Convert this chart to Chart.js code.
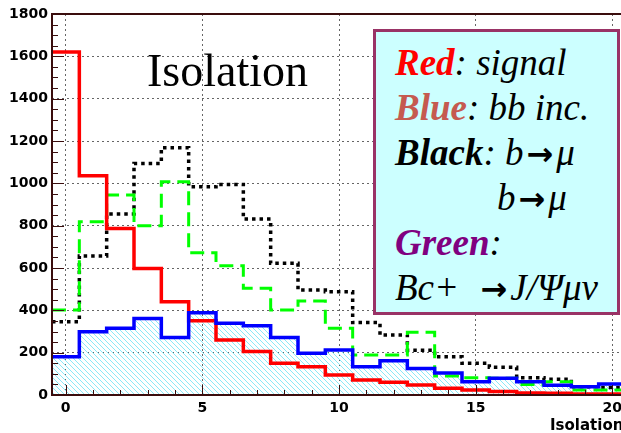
<!DOCTYPE html>
<html>
<head>
<meta charset="utf-8">
<script src="https://cdn.jsdelivr.net/npm/chart.js@4.4.1/dist/chart.umd.min.js"></script>
<style>
  body { margin: 0; background: #fff; overflow: hidden; }
  #wrap { position: relative; width: 621px; height: 433px; overflow: hidden; }
  #chart { position: absolute; left: 0; top: 0; }
  #title { position: absolute; left: 147px; top: 48px; font-family: "Liberation Serif", "Times New Roman", serif; font-size: 46px; line-height: 46px; color: #000; white-space: nowrap; }
  #axisTitle { position: absolute; left: 550px; top: 418px; font: bold 15px "DejaVu Sans", sans-serif; line-height: 15px; white-space: nowrap; }
  #legendBox { position: absolute; left: 373px; top: 29px; width: 241px; height: 280px; border: 3px solid #993366; background: #ccffff; }
  .row { position: absolute; left: 19px; font-family: "Liberation Serif", "Times New Roman", serif; font-style: italic; font-size: 37px; line-height: 45px; white-space: nowrap; color: #000; }
  .row b { font-weight: bold; }
  .arr { display: inline-block; font-family: "DejaVu Sans", sans-serif; font-weight: bold; font-style: normal; font-size: 32px; margin: 0 3px; }
</style>
</head>
<body>
<div id="wrap">
  <canvas id="chart" width="630" height="433"></canvas>
  <div id="title">Isolation</div>
  <div id="axisTitle">Isolation</div>
  <div id="legendBox">
    <div class="row" style="top:8px"><b style="color:#ff0000">Red</b>: signal</div>
    <div class="row" style="top:53px"><b style="color:#c55a50">Blue</b>: bb inc.</div>
    <div class="row" style="top:98px"><b>Black</b>: b<span class="arr">→</span>μ</div>
    <div class="row" style="top:143px; left:121px">b<span class="arr">→</span>μ</div>
    <div class="row" style="top:188px"><b style="color:#800080">Green</b>:</div>
    <div class="row" style="top:233px">Bc+ &nbsp;<span class="arr">→</span>J/Ψμν</div>
  </div>
</div>
<script>
//// histogram data, one value per bin (bin width 1, centred on the integers)

let binCenters = [0, 1, 2, 3, 4, 5, 6, 7, 8, 9, 10, 11, 12, 13, 14, 15, 16, 17, 18, 19, 20];
let redSignal = [1620, 1036, 787, 598, 441, 351, 260, 205, 150, 134, 94, 71, 60, 47, 32, 24, 16, 10, 8, 5, 5];
let blueBbInc = [181, 299, 315, 362, 272, 389, 339, 327, 272, 197, 213, 134, 162, 125, 104, 63, 79, 63, 46, 39, 52];
let blackBmu = [346, 657, 855, 1094, 1168, 984, 995, 831, 622, 496, 488, 342, 283, 211, 181, 150, 131, 82, 74, 39, 36];
let greenBc = [402, 819, 945, 800, 1008, 672, 611, 504, 402, 444, 315, 189, 189, 296, 90, 82, 79, 50, 63, 24, 24];
let xTicks = [0, 5, 10, 15, 20];
let yTicks = [0, 200, 400, 600, 800, 1000, 1200, 1400, 1600, 1800];

// points at the left edge of each bin, plus one at the right edge of the last bin
function histPoints(values) {
    let pts = values.map((v, i) => ({ x: binCenters[i] - 0.5, y: v }));
    pts.push({ x: binCenters[binCenters.length - 1] + 0.5, y: values[values.length - 1] });
    return pts;
}

function hatchPattern() {
    let c = document.createElement('canvas');
    c.width = 5;
    c.height = 5;
    let g = c.getContext('2d');
    g.strokeStyle = '#8ae9f7';
    g.lineWidth = 1;
    g.beginPath();
    g.moveTo(0, 0); g.lineTo(5, 5);
    g.moveTo(-1, 4); g.lineTo(1, 6);
    g.moveTo(4, -1); g.lineTo(6, 1);
    g.stroke();
    return g.createPattern(c, 'repeat');
}

// frame and the little inner tick marks
let framePlugin = {
    id: 'frame',
    afterDraw(chart) {
        let ctx = chart.ctx;
        let a = chart.chartArea;
        let xs = chart.scales.x;
        let ys = chart.scales.y;
        ctx.save();
        ctx.strokeStyle = '#3a0d0d';
        ctx.lineWidth = 1;
        ctx.beginPath();
        for (let v = 0; v <= 1800; v += 50) {
            let py = Math.round(ys.getPixelForValue(v)) + 0.5;
            let len = v % 200 === 0 ? 12 : 6;
            ctx.moveTo(a.left, py);
            ctx.lineTo(a.left + len, py);
        }
        for (let v = 0; v <= 20; v++) {
            let px = Math.round(xs.getPixelForValue(v)) + 0.5;
            let len = v % 5 === 0 ? 10 : 5;
            ctx.moveTo(px, a.bottom);
            ctx.lineTo(px, a.bottom - len);
        }
        ctx.stroke();
        ctx.lineWidth = 2;
        ctx.strokeRect(a.left, a.top, a.right - a.left, a.bottom - a.top);
        ctx.restore();
    }
};

let tickFont = { family: 'DejaVu Sans', size: 14, weight: 'bold' };

new Chart(document.getElementById('chart').getContext('2d'), {
    type: 'line',
    data: {
        datasets: [
            { label: 'Blue', data: histPoints(blueBbInc), borderColor: '#0000ff', borderWidth: 3.5, stepped: 'before', fill: 'origin', backgroundColor: hatchPattern() },
            { label: 'Red', data: histPoints(redSignal), borderColor: '#ff0000', borderWidth: 3.5, stepped: 'before', fill: false },
            { label: 'Green', data: histPoints(greenBc), borderColor: '#00ff00', borderWidth: 3, borderDash: [14, 7], stepped: 'before', fill: false },
            { label: 'Black', data: histPoints(blackBmu), borderColor: '#000000', borderWidth: 3.5, borderDash: [3.5, 4], stepped: 'before', fill: false }
        ]
    },
    options: {
        responsive: false,
        animation: false,
        layout: { padding: { top: 14, right: 4, left: 0, bottom: 0 } },
        elements: { point: { radius: 0 }, line: { tension: 0 } },
        plugins: {
            legend: { display: false },
            tooltip: { enabled: false },
            filler: { drawTime: 'beforeDatasetsDraw' }
        },
        scales: {
            x: {
                type: 'linear',
                min: -0.5,
                max: 20.5,
                afterBuildTicks: s => { s.ticks = xTicks.map(v => ({ value: v })); },
                afterFit: s => { s.height = 38; },
                grid: { color: '#666', lineWidth: 1, drawTicks: false },
                border: { display: false, dash: [2, 3] },
                ticks: { color: '#000', font: tickFont, padding: 5, maxRotation: 0, callback: v => String(v) }
            },
            y: {
                min: 0,
                max: 1800,
                afterBuildTicks: s => { s.ticks = yTicks.map(v => ({ value: v })); },
                afterFit: s => { s.width = 52; },
                grid: { color: '#666', lineWidth: 1, drawTicks: false },
                border: { display: false, dash: [2, 3] },
                ticks: { color: '#000', font: tickFont, padding: 4, callback: v => String(v) }
            }
        }
    },
    plugins: [framePlugin]
});
</script>
</body>
</html>
